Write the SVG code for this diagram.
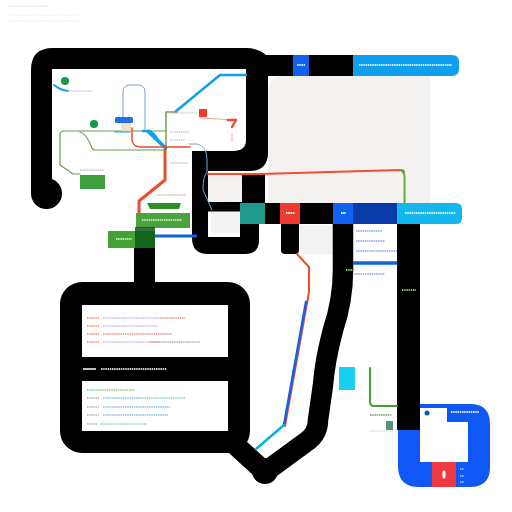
<svg xmlns="http://www.w3.org/2000/svg" width="512" height="512" viewBox="0 0 512 512">
<style>
.k{fill:none;stroke:#000;stroke-linejoin:round}
.c{fill:none;stroke-linejoin:round;stroke-linecap:round}
.t{fill:none;stroke-width:2;stroke-dasharray:1.5 .7}
.p{fill:#f4f2f1}
</style>
<rect width="512" height="512" fill="#fff"/>
<g id="caption" opacity=".3">
<path class="t" stroke="#c4c4c4" d="M9 6H48"/>
<path class="t" stroke="#dcdcdc" d="M9 15H80"/>
<path class="t" stroke="#dcdcdc" stroke-width="1" d="M9 21H80"/>
</g>
<g id="panels">
<path class="p" d="M284 76H430V203H268V92Q268 76 284 76Z"/>
<rect class="p" x="207" y="175" width="35" height="27"/>
<rect class="p" x="211" y="212" width="29" height="21"/>
<rect class="p" x="300" y="225" width="33" height="29"/>
</g>
<g id="black-routes">
<path d="M31 194V70Q31 48 53 48H246Q258 48 266 55H293V76H268V152Q268 171 250 171H208V237H240V224H259V240Q259 254 245 254H208Q192 254 192 238V151H233Q246 151 246 140V69H52V194Z" fill="#000"/>
<circle cx="46.500" cy="193.500" r="15.500"/>
<rect x="242" y="174" width="23" height="30"/>
<rect x="207" y="202" width="35" height="9.500"/>
<rect x="240" y="203" width="93" height="21"/>
<rect x="309" y="55" width="44" height="21"/>
<path d="M281 224H299V250Q299 254 295 254H285Q281 254 281 250Z"/>
<path class="k" stroke-width="20.500" d="M343 224V270Q343 300 333 330Q325 360 323 385L318 420Q318 434 306 442L265 472L232 442"/>
<circle cx="265" cy="471" r="13"/>
<rect x="397" y="224" width="23" height="206"/>
<rect x="134" y="248" width="21" height="36"/>
</g>
<g id="frame">
<rect x="60" y="282" width="190" height="171" rx="22"/>
<rect x="82" y="305" width="146" height="52" fill="#fff"/>
<rect x="82" y="381" width="146" height="50" fill="#fff"/>
<path d="M83 369H96" stroke="#fff" stroke-width="1.500"/>
<path class="t" stroke="#fff" stroke-width="1.500" d="M101 369H167" opacity=".8"/>
<g opacity=".55">
<path class="t" stroke="#ef6a5c" d="M87 318H99M87 326H99M87 334H99M87 342H99"/>
<path class="t" stroke="#aaa6d8" d="M103 318H160M103 326H158M103 342H160"/>
<path class="t" stroke="#ef6a5c" d="M160 318H185M103 334H172M160 342H150"/>
<path class="t" stroke="#a88f98" d="M150 342H200"/>
<path class="t" stroke="#5fbe6a" d="M87 390H135"/>
<path class="t" stroke="#999" d="M87 398H99M87 407H99M87 415H99M87 424H97"/>
<path class="t" stroke="#6fa0e8" d="M103 398H140M103 407H170M103 415H168"/>
<path class="t" stroke="#5ccf9c" d="M140 398H185M100 424H147"/>
</g>
</g>
<g id="connectors">
<path class="c" stroke="#0ea0ee" stroke-width="2.500" d="M175 112L220 75H246"/>
<path class="c" stroke="#6f9a52" stroke-width="1.200" d="M165 131H64Q60 131 60 135V165L73 174H80"/>
<path class="c" stroke="#6f9a52" stroke-width="1.200" d="M80 132Q86 133 92 148L94 150H165"/>
<path class="c" stroke="#7e9c4e" stroke-width="1.500" d="M177 112H166V148"/>
<path class="c" stroke="#7d9bd8" stroke-width="1" d="M123 117V92Q123 85 130 85H138Q145 85 145 92V131"/>
<path class="c" stroke="#0ea0ee" stroke-width="2.500" d="M147 131L166 149M143 131H150Q154 133 158 140L166 148"/>
<path class="c" stroke="#f04a2c" stroke-width="1.500" d="M132 128V140Q133 147 141 147H190"/>
<path class="c" stroke="#f0a595" stroke-width="1" d="M200 118L236 120"/>
<path class="c" stroke="#f04a2c" stroke-width="3" d="M165 150V180L139 201V213"/>
<path class="c" stroke="#0ea0ee" stroke-width="1" d="M115 132H130"/>
<path class="c" stroke="#7aa7d8" stroke-width="1" d="M189 144H197Q207 146 207 160V172Q203 176 203 190L212 210"/>
<path stroke="#0f62e0" stroke-width="3" d="M155 236H197"/>
<path class="c" stroke="#f0502c" stroke-width="2" d="M208 174H260L400 170Q404 170 404 172"/>
<path class="c" stroke="#5fae3a" stroke-width="2" d="M400 170Q404 171 404.500 176V203"/>
<path class="c" stroke="#f04a2c" stroke-width="2" d="M297 254L309 267V292L285 426"/>
<path class="c" stroke="#0f62e0" stroke-width="2.500" d="M306 302L284 425"/>
<path class="c" stroke="#08b2dc" stroke-width="2.500" d="M284 425L256 449"/>
<path stroke="#0f62e0" stroke-width="3.500" d="M353 263H397"/>
<path class="c" stroke="#3f9f33" stroke-width="2" d="M370 368V402Q370 406 374 406H397"/>
</g>
<g id="node-top-bar">
<rect x="293" y="55" width="16" height="21" fill="#0f62f0"/>
<path d="M353 55H452Q459 55 459 62V69Q459 76 452 76H353Z" fill="#0ea0ee"/>
<path class="t" stroke="#cdeaff" d="M359 65H452"/>
<path class="t" stroke="#cdeaff" stroke-width="3" d="M297 65H305"/>
</g>
<g id="node-mid-bar">
<rect x="240" y="203" width="25" height="21" fill="#1f9a8c"/>
<rect x="280" y="203" width="20" height="21" fill="#ee3a30"/>
<rect x="333" y="203" width="20" height="21" fill="#0f62f0"/>
<rect x="353" y="203" width="44" height="21" fill="#0a3aa8"/>
<path d="M397 203H456Q462 203 462 209V218Q462 224 456 224H397Z" fill="#14b6ee"/>
<path class="t" stroke="#d5f3ff" d="M405 213H456"/>
<path class="t" stroke="#fff" stroke-width="3" d="M286 213H295M341 213H346"/>
<path class="t" stroke="#a8b8ee" d="M356 231H382M356 241H385M356 251H397M354 274H385"/>
<path class="t" stroke="#66cc33" stroke-width="1" d="M346 270H354M402 290H416"/>
</g>
<g id="node-flow">
<rect x="115" y="117" width="18" height="6" rx="1.500" fill="#1f6fe6"/>
<rect x="121" y="123" width="10" height="8" fill="#f4dfc8"/>
<rect x="199" y="109" width="8" height="8" fill="#ef3a2c"/>
<circle cx="65" cy="81" r="4" fill="#129a48"/>
<circle cx="94" cy="124" r="4" fill="#129a48"/>
<path class="c" stroke="#0ea0ee" stroke-width="2" d="M54 85Q60 90 68 91"/>
<path class="c" stroke="#ef4a30" stroke-width="2.500" d="M228 120H236L232 127"/>
<g opacity=".5">
<path class="t" stroke="#ef8a80" stroke-width="4" d="M232 133V142"/>
<path class="t" stroke="#bcbcbc" stroke-width="5" d="M170 113H197"/>
<path class="t" stroke="#a7b7dd" d="M170 132H190M170 140H185M66 91H92"/>
<path class="t" stroke="#d6a090" stroke-width="7" d="M170 163H188"/>
<path class="t" stroke="#aaa" stroke-width="1.500" d="M80 170H104M157 195H186"/>
</g>
<rect x="80" y="175" width="25" height="14" fill="#3f9f3f"/>
<path d="M147 203H181L179 209H150Z" fill="#2f8f26"/>
<rect x="136" y="213" width="54" height="15" fill="#4aa33e"/>
<rect x="108" y="231" width="47" height="17" fill="#44a136"/>
<rect x="135" y="227" width="20" height="21" fill="#0c5a18" opacity=".85"/>
<path class="t" stroke="#bfe6b4" stroke-width="1.500" d="M142 220H182M116 239H132"/>
</g>
<g id="node-cyan"><rect x="339" y="367" width="16" height="23" fill="#18d0f0"/></g>
<g id="node-legend" opacity=".8">
<path class="t" stroke="#7aa07a" stroke-width="1.500" d="M370 415H392"/>
<rect x="386" y="421" width="7" height="9" fill="#2a7a5a"/>
<path stroke="#d5d8dc" stroke-width="1" d="M369 431H393"/>
</g>
<g id="node-corner">
<path d="M398 430V466Q398 487 419 487H470Q490 487 490 467V424Q490 404 470 404H420V408H447V422H468V462H420V430Z" fill="#0f58f5"/>
<rect x="432" y="462" width="24" height="25" fill="#ee3a40"/>
<circle cx="427" cy="413" r="2.500" fill="#0c5aa8"/>
<path class="t" stroke="#d8e4ff" d="M451 412H479"/>
<path class="c" stroke="#fff" stroke-width="3" d="M444 472V477"/>
<path class="t" stroke="#8eb0ff" stroke-width="1.500" d="M460 469H464M460 476H464M460 482H464"/>
</g>
</svg>
